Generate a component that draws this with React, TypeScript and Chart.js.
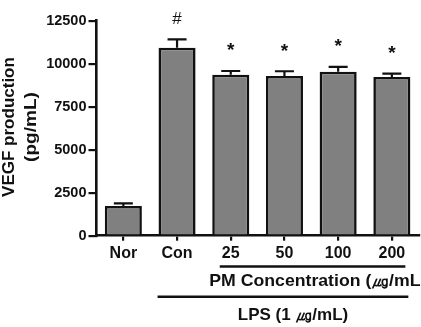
import { useEffect, useRef } from 'react';
import { Chart, registerables } from 'chart.js';

Chart.register(...registerables);

// Groups along the x axis
const groups = ['Nor', 'Con', '25', '50', '100', '200'];
// Mean VEGF production (pg/mL) and its SEM for each group
const vegfMean = [1730, 10930, 9360, 9285, 9535, 9230];
const vegfSem = [150, 490, 215, 275, 275, 195];
// Significance marks above each bar
const marks = ['', '#', '*', '*', '*', '*'];
// Y axis range and step
const yMin = 0;
const yMax = 12500;
const yStep = 2500;

const FONT = '"Liberation Sans", Arial, Helvetica, sans-serif';
const INK = '#111111';

const annotate = {
  id: 'annotate',
  afterDatasetsDraw(chart: any) {
    const ctx = chart.ctx as CanvasRenderingContext2D;
    const x = chart.scales.x;
    const y = chart.scales.y;
    ctx.save();
    ctx.strokeStyle = INK;
    ctx.fillStyle = INK;
    ctx.lineWidth = 2.2;
    groups.forEach((_, i) => {
      const cx = x.getPixelForValue(i);
      const top = y.getPixelForValue(vegfMean[i]);
      const errTop = y.getPixelForValue(vegfMean[i] + vegfSem[i]);
      // upper error bar with cap
      ctx.beginPath();
      ctx.moveTo(cx, top);
      ctx.lineTo(cx, errTop);
      ctx.moveTo(cx - 9.5, errTop);
      ctx.lineTo(cx + 9.5, errTop);
      ctx.stroke();
      // significance mark
      const m = marks[i];
      if (m) {
        ctx.textAlign = 'center';
        ctx.textBaseline = 'middle';
        if (m === '#') {
          ctx.font = `normal 17px ${FONT}`;
          ctx.fillText(m, cx, errTop - 20);
        } else {
          ctx.font = `bold 19px ${FONT}`;
          ctx.fillText(m, cx, errTop - 20);
        }
      }
    });
    ctx.restore();
  },
  afterDraw(chart: any) {
    const ctx = chart.ctx as CanvasRenderingContext2D;
    const x = chart.scales.x;
    ctx.save();
    ctx.strokeStyle = INK;
    ctx.fillStyle = INK;

    // y axis title, two lines rotated
    ctx.save();
    ctx.translate(0, 127);
    ctx.rotate(-Math.PI / 2);
    ctx.textAlign = 'center';
    ctx.textBaseline = 'alphabetic';
    ctx.font = `bold 17px ${FONT}`;
    ctx.fillText('VEGF production', 0, 14);
    ctx.save();
    ctx.scale(1.12, 1);
    ctx.fillText('(pg/mL)', 0, 35.5);
    ctx.restore();
    ctx.restore();

    // PM concentration bracket
    ctx.lineWidth = 2.4;
    const pmStart = x.getPixelForValue(2) - 11;
    const pmEnd = x.getPixelForValue(5) + 13.5;
    ctx.beginPath();
    ctx.moveTo(pmStart, 266.5);
    ctx.lineTo(pmEnd, 266.5);
    ctx.stroke();
    ctx.font = `bold 17px ${FONT}`;
    ctx.textBaseline = 'alphabetic';
    ctx.save();
    ctx.translate(x.getPixelForValue(2) - 21.5, 286);
    ctx.scale(1.04, 1);
    ctx.textAlign = 'left';
    ctx.fillText('PM Concentration (\u338D/mL', 0, 0);
    ctx.restore();

    // LPS bracket
    const lpsStart = x.getPixelForValue(1) - 19.5;
    const lpsEnd = x.getPixelForValue(5) + 16.5;
    ctx.beginPath();
    ctx.moveTo(lpsStart, 296.7);
    ctx.lineTo(lpsEnd, 296.7);
    ctx.stroke();
    ctx.textAlign = 'center';
    ctx.fillText('LPS (1 \u338D/mL)', 293, 319.5);
    ctx.restore();
  },
};

export default function App() {
  const ref = useRef<HTMLCanvasElement | null>(null);

  useEffect(() => {
    if (!ref.current) return;
    const chart = new Chart(ref.current, {
      type: 'bar',
      data: {
        labels: groups,
        datasets: [
          {
            data: vegfMean,
            backgroundColor: '#808080',
            borderColor: INK,
            borderWidth: 2.6,
            barPercentage: 0.69,
            categoryPercentage: 1,
          },
        ],
      },
      options: {
        animation: false,
        responsive: false,
        events: [],
        layout: { padding: { top: 20.7, right: 2.3, left: 0, bottom: 0 } },
        plugins: {
          legend: { display: false },
          tooltip: { enabled: false },
          title: { display: false },
        },
        scales: {
          x: {
            offset: true,
            grid: {
              offset: false,
              drawOnChartArea: false,
              drawTicks: true,
              tickLength: 5,
              color: INK,
              lineWidth: 2.2,
            },
            border: { display: true, color: INK, width: 2.6 },
            ticks: {
              color: INK,
              padding: 3,
              font: { family: FONT, size: 16, weight: 'bold' },
            },
            afterFit: (s: any) => {
              s.height = 91.3;
            },
          },
          y: {
            min: yMin,
            max: yMax,
            grid: {
              drawOnChartArea: false,
              drawTicks: true,
              tickLength: 8,
              color: INK,
              lineWidth: 2.2,
            },
            border: { display: true, color: INK, width: 2.6 },
            ticks: {
              stepSize: yStep,
              color: INK,
              padding: 2,
              font: { family: FONT, size: 14.5, weight: 'bold' },
              callback: (v: any) => String(v),
            },
            afterFit: (s: any) => {
              s.width = 96.5;
            },
          },
        },
      },
      plugins: [annotate],
    });
    return () => chart.destroy();
  }, []);

  return (
    <div style={{ position: 'fixed', left: 0, top: 0, width: 421, height: 327, background: '#fff' }}>
      <canvas ref={ref} width={421} height={327} style={{ display: 'block' }} />
    </div>
  );
}
